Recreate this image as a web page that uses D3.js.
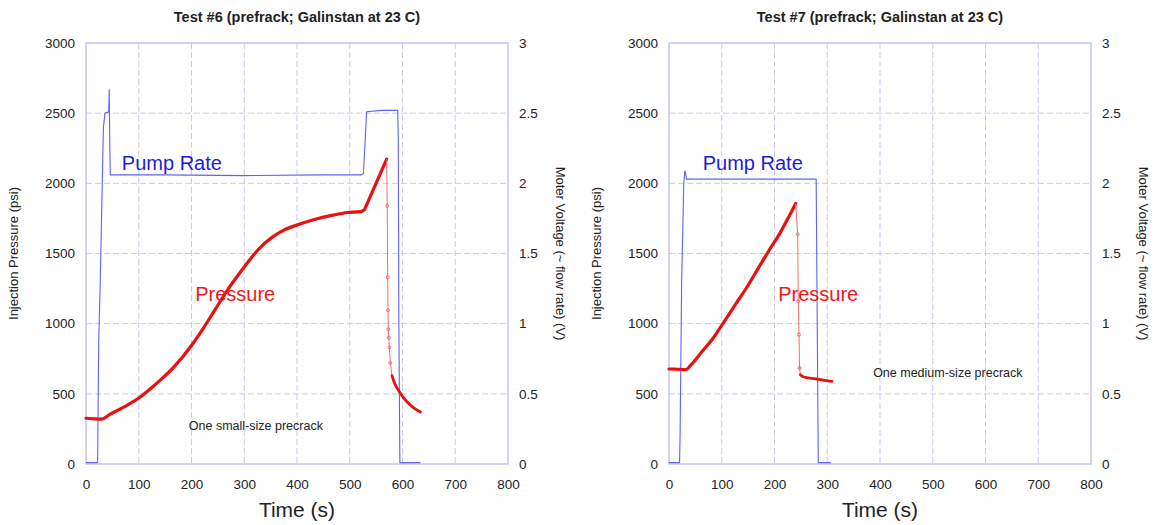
<!DOCTYPE html>
<html><head><meta charset="utf-8">
<script src="https://cdn.jsdelivr.net/npm/d3@7"></script>
<style>
body{margin:0;background:#fff;}
svg{display:block;font-family:"Liberation Sans",Arial,sans-serif;}
</style></head>
<body><svg id="chart" width="1160" height="525"></svg>
<script>
// ---------- data ----------
const xTicks = [0,100,200,300,400,500,600,700,800];
const yLeftTicks = [0,500,1000,1500,2000,2500,3000];
const yRightTicks = [0,0.5,1,1.5,2,2.5,3];

const titles = ["Test #6 (prefrack; Galinstan at 23 C)", "Test #7 (prefrack; Galinstan at 23 C)"];
const notes = ["One small-size precrack", "One medium-size precrack"];

// Test #6 pump (time s, volts)
const pump6 = [[0,0.01],[22,0.01],[24,0.85],[27,1.3],[33,2.4],[36,2.5],[43,2.51],[44,2.67],[45,2.3],[46,2.06],
  [150,2.06],[300,2.055],[450,2.06],[522,2.06],[526,2.07],[532,2.51],[560,2.52],[591,2.52],[592,2.3],[593,1.05],[595,0.01],[634,0.01]];
// Test #6 pressure (time s, psi)
const press6Rise = [[0,326],[15,322],[29,320],[46,355],[74,410],[100,470],[131,565],[166,688],[201,850],[222,965],
  [243,1090],[271,1255],[299,1399],[327,1530],[352,1613],[376,1668],[404,1708],[433,1742],[468,1773],[496,1792],[522,1799]];
const press6Jump = [[522,1799],[528,1812],[570,2173]];
const press6Drop = [[570,2173],[571,1840],[572,1330],[572.5,1095],[573,960],[574,900],[575,830],[577,720],[580,630]];
const press6Tail = [[580,630],[585,575],[594,515],[608,445],[622,398],[634,370]];

// Test #7 pump
const pump7 = [[0,0.01],[20,0.01],[21,0.2],[24,1.3],[28,2.0],[30,2.09],[31,2.08],[33,2.03],[150,2.03],[279,2.03],[281,1.0],[283,0.01],[307,0.01]];
// Test #7 pressure
const press7Rise = [[0,677],[15,675],[32,672],[42,708],[63,803],[84,898],[105,1017],[126,1137],[147,1256],[168,1387],
  [189,1518],[211,1649],[228,1768],[240,1856]];
const press7Jump = [];
const press7Drop = [[240,1856],[244,1637],[245,1160],[246.5,922],[247.5,684],[249,636]];
const press7Tail = [[249,636],[253,624],[267,612],[281,605],[295,596],[309,589]];

// annotation anchor positions in data units [time, psi]
const pumpLabelPos = [[68,2095],[64,2095]];
const pressLabelPos = [[207,1162],[207,1162]];
const notePos = [[195,242],[387,620]];

// ---------- drawing ----------
const svg = d3.select("#chart");
const panels = [
  {x0:86, pump:pump6, rise:press6Rise, jump:press6Jump, drop:press6Drop, tail:press6Tail},
  {x0:669, pump:pump7, rise:press7Rise, jump:press7Jump, drop:press7Drop, tail:press7Tail}
];
const W = 422, plotTop = 43, plotBottom = 464;
const gridColor = "#c9c9f2", frameColor = "#c4c4f4";

panels.forEach((p, i) => {
  const x = d3.scaleLinear().domain([0,800]).range([p.x0, p.x0 + W]);
  const y = d3.scaleLinear().domain([0,3000]).range([plotBottom, plotTop]);
  const yr = d3.scaleLinear().domain([0,3]).range([plotBottom, plotTop]);
  const g = svg.append("g");

  // grid
  g.append("g").selectAll("line").data(xTicks.slice(1,-1)).join("line")
    .attr("x1", d=>x(d)).attr("x2", d=>x(d)).attr("y1", plotTop).attr("y2", plotBottom)
    .attr("stroke", gridColor).attr("stroke-width",1).attr("stroke-dasharray","6,3");
  g.append("g").selectAll("line").data(yLeftTicks.slice(1,-1)).join("line")
    .attr("y1", d=>y(d)).attr("y2", d=>y(d)).attr("x1", p.x0).attr("x2", p.x0+W)
    .attr("stroke", gridColor).attr("stroke-width",1).attr("stroke-dasharray","6,3");
  // frame
  g.append("rect").attr("x", p.x0).attr("y", plotTop).attr("width", W).attr("height", plotBottom-plotTop)
    .attr("fill","none").attr("stroke", frameColor).attr("stroke-width",1.5);

  // axes (labels only)
  const ax = g.append("g").attr("transform",`translate(0,${plotBottom})`)
    .call(d3.axisBottom(x).tickValues(xTicks).tickSize(0).tickPadding(15));
  const ayl = g.append("g").attr("transform",`translate(${p.x0},0)`)
    .call(d3.axisLeft(y).tickValues(yLeftTicks).tickFormat(d3.format("")).tickSize(0).tickPadding(11));
  const ayr = g.append("g").attr("transform",`translate(${p.x0+W},0)`)
    .call(d3.axisRight(yr).tickValues(yRightTicks).tickFormat(d3.format("")).tickSize(0).tickPadding(11));
  [ax, ayl, ayr].forEach(a => {
    a.select(".domain").remove();
    a.selectAll("text").attr("font-size", 13.5).attr("fill", "#222")
      .attr("font-family", '"Liberation Sans",Arial,sans-serif');
  });

  // pump rate line
  const lineR = d3.line().x(d=>x(d[0])).y(d=>yr(d[1]));
  g.append("path").attr("d", lineR(p.pump)).attr("fill","none")
    .attr("stroke","#6262f2").attr("stroke-width",1.1);

  // pressure
  const lineP = d3.line().x(d=>x(d[0])).y(d=>y(d[1]));
  const smooth = d3.line().x(d=>x(d[0])).y(d=>y(d[1])).curve(d3.curveMonotoneX);
  const thick = sel => sel.attr("fill","none").attr("stroke","#e81010").attr("stroke-width",3.2)
    .attr("stroke-linejoin","round").attr("stroke-linecap","round");
  g.append("path").attr("d", smooth(p.rise)).call(thick);
  if (p.jump.length) g.append("path").attr("d", lineP(p.jump)).call(thick);
  g.append("path").attr("d", lineP(p.drop)).attr("fill","none")
    .attr("stroke","#f07070").attr("stroke-width",1);
  g.selectAll("circle").data(p.drop.slice(1,-1)).join("circle")
    .attr("cx", d=>x(d[0])).attr("cy", d=>y(d[1])).attr("r",1.5)
    .attr("fill","none").attr("stroke","#f05050").attr("stroke-width",0.8);
  g.append("path").attr("d", smooth(p.tail)).call(thick).attr("stroke-width",2.8);

  // annotations
  g.append("text").attr("x", x(pumpLabelPos[i][0])).attr("y", y(pumpLabelPos[i][1]))
    .attr("font-size", 20).attr("fill", "#1c1ce0").text("Pump Rate");
  g.append("text").attr("x", x(pressLabelPos[i][0])).attr("y", y(pressLabelPos[i][1]))
    .attr("font-size", 20).attr("fill", "#f01818").text("Pressure");
  g.append("text").attr("x", x(notePos[i][0])).attr("y", y(notePos[i][1]))
    .attr("font-size", 12.5).attr("fill", "#222").text(notes[i]);

  // title
  g.append("text").attr("x", p.x0 + W/2).attr("y", 22).attr("text-anchor","middle")
    .attr("font-size", 14.5).attr("font-weight","bold").attr("fill","#222").text(titles[i]);
  // x label
  g.append("text").attr("x", p.x0 + W/2).attr("y", 517).attr("text-anchor","middle")
    .attr("font-size", 21).attr("fill","#222").text("Time (s)");
  // y labels
  const cy = (plotTop+plotBottom)/2;
  g.append("text").attr("transform", `translate(${p.x0-68},${cy}) rotate(-90)`).attr("text-anchor","middle")
    .attr("font-size", 13).attr("fill","#222").text("Injection Pressure (psi)");
  g.append("text").attr("transform", `translate(${p.x0+W+48},${cy}) rotate(90)`).attr("text-anchor","middle")
    .attr("font-size", 13).attr("fill","#222").text("Moter Voltage (~ flow rate) (V)");
});
</script></body></html>
